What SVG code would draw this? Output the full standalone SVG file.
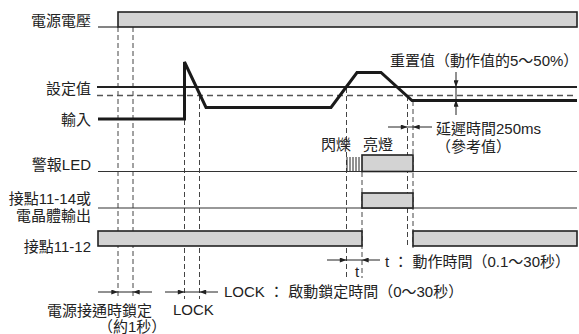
<svg xmlns="http://www.w3.org/2000/svg" width="579" height="334" viewBox="0 0 579 334">
<defs>
<marker id="ah" viewBox="0 0 8 6" refX="8" refY="3" markerWidth="8" markerHeight="5" markerUnits="userSpaceOnUse" orient="auto"><path d="M0,0 L8,3 L0,6 z" fill="#222"/></marker>
</defs>
<style>
text{font-family:"Liberation Sans","Noto Sans CJK TC",sans-serif;font-size:15px;fill:#222}
.lbl{text-anchor:end}
.base{stroke:#333;stroke-width:1.2;fill:none}
.bar{fill:#d3d3d3;stroke:#222;stroke-width:1.6}
.dash{stroke:#444;stroke-width:1;stroke-dasharray:5 3;fill:none}
.arr{stroke:#222;stroke-width:1;fill:none}
.thick{stroke:#1a1a1a;stroke-width:3;fill:none;stroke-linejoin:miter}
</style>
<rect width="579" height="334" fill="#fff"/>
<g id="connectors">
<line class="dash" x1="118" y1="27" x2="118" y2="299"/>
<line class="dash" x1="133" y1="27" x2="133" y2="299"/>
<line class="dash" x1="184.5" y1="120" x2="184.5" y2="299"/>
<line class="dash" x1="199.5" y1="96" x2="199.5" y2="299"/>
<line class="dash" x1="346.5" y1="88" x2="346.5" y2="278"/>
<line class="dash" x1="362" y1="172" x2="362" y2="278"/>
<line class="dash" x1="407.5" y1="96" x2="407.5" y2="248"/>
<line class="dash" x1="413" y1="101" x2="413" y2="248"/>
<line class="arr" x1="98" y1="292" x2="118" y2="292" marker-end="url(#ah)"/>
<line class="arr" x1="118" y1="292" x2="133" y2="292"/>
<line class="arr" x1="152" y1="292" x2="133" y2="292" marker-end="url(#ah)"/>
<line class="arr" x1="165" y1="292" x2="184.5" y2="292" marker-end="url(#ah)"/>
<line class="arr" x1="184.5" y1="292" x2="199.5" y2="292"/>
<line class="arr" x1="218" y1="292" x2="199.5" y2="292" marker-end="url(#ah)"/>
<line class="arr" x1="327" y1="260" x2="346.5" y2="260" marker-end="url(#ah)"/>
<line class="arr" x1="346.5" y1="260" x2="362" y2="260"/>
<line class="arr" x1="380" y1="260" x2="362" y2="260" marker-end="url(#ah)"/>
<line class="arr" x1="388" y1="127" x2="407.5" y2="127" marker-end="url(#ah)"/>
<line class="arr" x1="407.5" y1="127" x2="413" y2="127"/>
<line class="arr" x1="432" y1="127" x2="413" y2="127" marker-end="url(#ah)"/>
<line class="arr" x1="456" y1="72" x2="456" y2="87" marker-end="url(#ah)"/>
<line class="arr" x1="456" y1="87" x2="456" y2="100"/>
<line class="arr" x1="456" y1="115" x2="456" y2="100" marker-end="url(#ah)"/>
</g>
<g id="power">
<text class="lbl" x="91" y="26">電源電壓</text>
<line class="base" x1="98" y1="27" x2="118" y2="27"/>
<rect class="bar" x="118" y="12" width="459" height="15"/>
</g>
<g id="setpoint">
<text class="lbl" x="91" y="94">設定值</text>
<line x1="97" y1="87" x2="577" y2="87" stroke="#222" stroke-width="1.8"/>
<line x1="97" y1="95.5" x2="577" y2="95.5" stroke="#555" stroke-width="1.3" stroke-dasharray="6 4"/>
</g>
<g id="input">
<text class="lbl" x="91" y="125">輸入</text>
<path class="thick" d="M98,119 H184.5 V62 L206,107.5 H331 L357,72.5 H381 L412,100.5 H577"/>
</g>
<g id="led">
<text class="lbl" x="91" y="170">警報LED</text>
<line class="base" x1="98" y1="171.5" x2="577" y2="171.5"/>
<g stroke="#222" stroke-width="1">
<line x1="347" y1="157" x2="347" y2="171"/>
<line x1="350" y1="157" x2="350" y2="171"/>
<line x1="353" y1="157" x2="353" y2="171"/>
<line x1="356" y1="157" x2="356" y2="171"/>
<line x1="359" y1="157" x2="359" y2="171"/>
</g>
<rect class="bar" x="362" y="155" width="51" height="16.5"/>
<text x="321" y="150">閃爍</text>
<text x="363" y="150">亮燈</text>
</g>
<g id="contact1114">
<text class="lbl" x="91" y="204">接點11-14或</text>
<text class="lbl" x="91" y="221">電晶體輸出</text>
<line class="base" x1="98" y1="208" x2="577" y2="208"/>
<rect class="bar" x="362" y="193" width="51" height="15"/>
</g>
<g id="contact1112">
<text class="lbl" x="91" y="252">接點11-12</text>
<rect class="bar" x="98" y="231" width="264" height="15"/>
<rect class="bar" x="413" y="231" width="164" height="15"/>
</g>
<g id="notes">
<text x="390" y="66">重置值（動作值的5～50%）</text>
<text x="436" y="134">延遲時間250ms</text>
<text x="436" y="152">（參考值）</text>
<text x="355" y="277">t</text>
<text x="385" y="267">t ： 動作時間（0.1～30秒）</text>
<text x="224" y="297">LOCK ： 啟動鎖定時間（0～30秒）</text>
<text x="173" y="315">LOCK</text>
<text x="47" y="316">電源接通時鎖定</text>
<text x="98" y="332">（約1秒）</text>
</g>
</svg>
